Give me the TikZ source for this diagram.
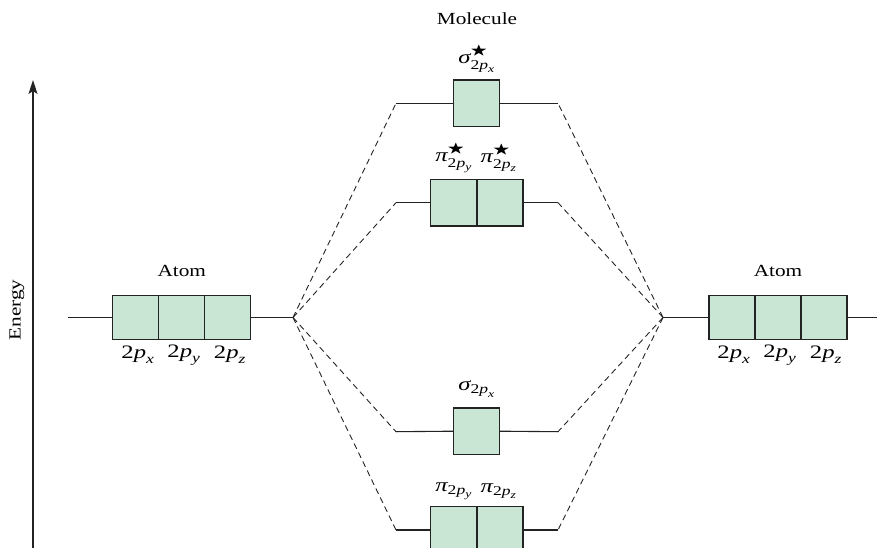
\documentclass[tikz,border=0pt]{standalone}
\usepackage{amsmath,amssymb}
\usepackage{fontspec}
\setmainfont{Liberation Serif}
\usetikzlibrary{arrows.meta}
\DeclareMathSizes{17}{17}{12.5}{9.5}
\DeclareMathSizes{19}{19}{13.5}{10.5}
\definecolor{orbfill}{RGB}{201,229,212}
\definecolor{orbline}{RGB}{35,35,35}
\newcommand{\ti}[1]{\text{\itshape #1}}
\newcommand{\tp}[1]{\text{2}\ti{p}_{\ti{#1}}}
\begin{document}
\begin{tikzpicture}[x=1pt,y=-1pt,
 lvl/.style={draw=orbline,line width=1.1pt},
 conn/.style={draw=orbline,line width=0.9pt,dash pattern=on 6pt off 4pt},
 abox/.style={draw=orbline,line width=1.2pt,fill=orbfill,minimum width=46pt,minimum height=43.5pt,inner sep=0pt,outer sep=0pt},
 mbox/.style={abox,minimum height=46.5pt},
 lab/.style={font=\fontsize{17}{20}\selectfont,inner sep=0pt,xscale=1.25},
 mlab/.style={font=\fontsize{19}{22}\selectfont,inner sep=0pt,xscale=1.3}]
\clip (0,0) rectangle (877,548);
% energy axis
\coordinate (eb) at (33,560);
\coordinate (et) at (33,80);
\draw[orbline,line width=1.2pt,-{Stealth[length=14pt,width=9pt,inset=3pt]}] (eb) -- (et);
\node[font=\fontsize{17}{20}\selectfont,inner sep=0pt,rotate=90,xscale=1.25] (energy) at (17,310) {Energy};
% left atom
\node[abox] (L1) at (135.7,317.5) {};
\node[abox] (L2) at (181.7,317.5) {};
\node[abox] (L3) at (227.7,317.5) {};
\coordinate (la) at (68,317.5);
\coordinate (JL) at (293,317.5);
\draw[lvl] (la) -- (L1.west);
\draw[lvl] (L3.east) -- (JL);
\node[lab] (atl) at (181.7,271) {Atom};
\node[mlab] (lx) at (138,355) {$\tp{x}$};
\node[mlab] (ly) at (184,355) {$\tp{y}$};
\node[mlab] (lz) at (230,355) {$\tp{z}$};
% right atom
\node[abox] (R1) at (732,317.5) {};
\node[abox] (R2) at (778,317.5) {};
\node[abox] (R3) at (824,317.5) {};
\coordinate (ra) at (880,317.5);
\coordinate (JR) at (663,317.5);
\draw[lvl] (R3.east) -- (ra);
\draw[lvl] (JR) -- (R1.west);
\node[lab] (atr) at (778,271) {Atom};
\node[mlab] (rx) at (734,355) {$\tp{x}$};
\node[mlab] (ry) at (780,355) {$\tp{y}$};
\node[mlab] (rz) at (826,355) {$\tp{z}$};
% molecule
\node[lab] (mol) at (477,19) {Molecule};
% sigma*
\node[mbox] (S1) at (476.7,103.3) {};
\coordinate (s1l) at (396,103.3);
\coordinate (s1r) at (558,103.3);
\draw[lvl] (s1l) -- (S1.west);
\draw[lvl] (S1.east) -- (s1r);
\node[mlab] (ls1) at (477,59) {$\ti{σ}^{\bigstar}_{\tp{x}}$};
% pi*
\node[mbox] (P1) at (453.7,202.7) {};
\node[mbox] (P2) at (500,202.7) {};
\coordinate (p1l) at (396,202.7);
\coordinate (p1r) at (558,202.7);
\draw[lvl] (p1l) -- (P1.west);
\draw[lvl] (P2.east) -- (p1r);
\node[mlab] (lp1) at (454,158) {$\ti{π}^{\bigstar}_{\tp{y}}$};
\node[mlab] (lp2) at (499,158) {$\ti{π}^{\bigstar}_{\tp{z}}$};
% sigma
\node[mbox] (S2) at (476.7,431.2) {};
\coordinate (s2l) at (396,431.7);
\coordinate (s2r) at (558,431.7);
\draw[lvl] (s2l) -- (S2.west);
\draw[lvl] (S2.east) -- (s2r);
\node[mlab] (ls2) at (477,389) {$\ti{σ}_{\tp{x}}$};
% pi
\node[mbox] (P3) at (453.7,530) {};
\node[mbox] (P4) at (500,530) {};
\coordinate (p2l) at (396,530);
\coordinate (p2r) at (558,530);
\draw[lvl] (p2l) -- (P3.west);
\draw[lvl] (P4.east) -- (p2r);
\node[mlab] (lp3) at (454,491) {$\ti{π}_{\tp{y}}$};
\node[mlab] (lp4) at (499,491) {$\ti{π}_{\tp{z}}$};
% dashed connectors
\foreach \c in {s1l,p1l,s2l,p2l} \draw[conn] (JL) -- (\c);
\foreach \c in {s1r,p1r,s2r,p2r} \draw[conn] (JR) -- (\c);
\end{tikzpicture}
\end{document}
